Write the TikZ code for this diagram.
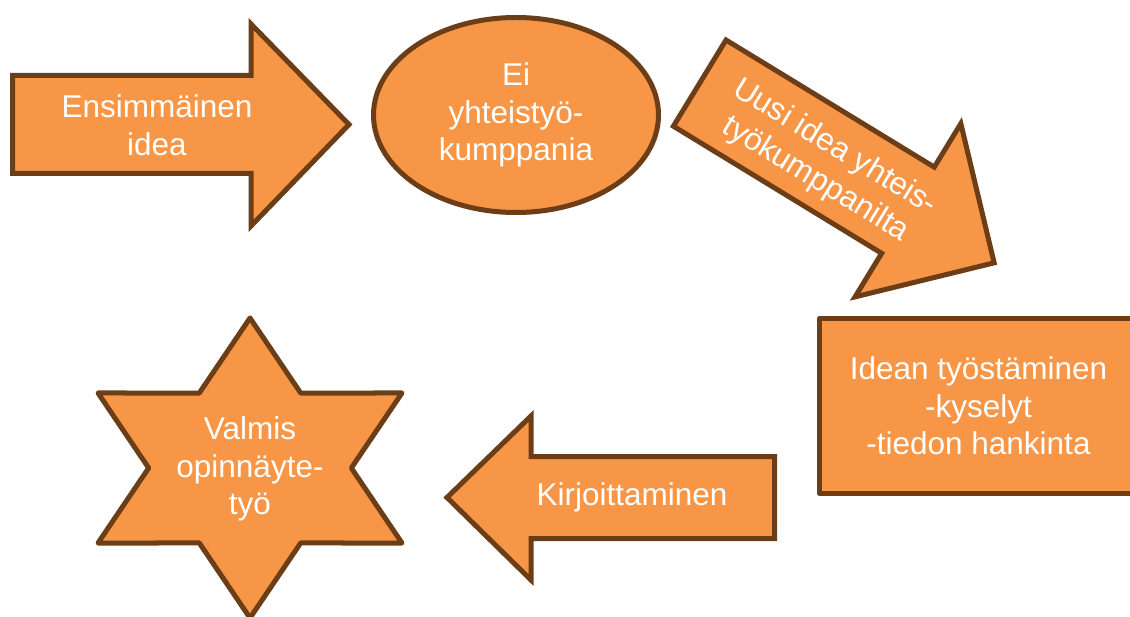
\documentclass[tikz,border=0pt]{standalone}
\usepackage{fontspec}
\setmainfont{Liberation Sans}
\usepackage{tikz}
\usetikzlibrary{shapes.geometric}
\definecolor{boxorange}{HTML}{F79646}
\definecolor{boxbrown}{HTML}{6B3E17}

\begin{document}
\begin{tikzpicture}[
    x=1pt, y=-1pt,
    piece/.style={fill=boxorange, draw=boxbrown, line width=5pt},
    words/.style={text=white, align=center, font=\fontsize{31.5}{37.5}\selectfont}
]
\useasboundingbox (0,0) rectangle (1130,617);

% First idea
\draw[piece] (12.5,75.5) -- (251,75.5) -- (251,24) -- (349,124.5) -- (251,226) -- (251,173.5) -- (12.5,173.5) -- cycle;
\node[words] (first) at (157,125) {Ensimmäinen\\idea};

% No partner
\node[piece, words, ellipse, minimum width=285, minimum height=195] (nopartner) at (516,115) {Ei\\yhteistyö-\\kumppania};

% New idea from partner
\begin{scope}[shift={(726,40)}, rotate=-31.4]
\draw[piece] (0,0) -- (244,0) -- (244,-51) -- (345,50.5) -- (244,152) -- (244,101) -- (0,101) -- cycle;
\node[words, rotate=-31.4] (newidea) at (149,54) {Uusi idea yhteis-\\työkumppanilta};
\end{scope}

% Working on the idea
\node[piece, words, line join=round, minimum width=318, minimum height=175] (work) at (978.5,406) {Idean työstäminen\\-kyselyt\\-tiedon hankinta};

% Writing
\draw[piece] (774.5,456.5) -- (531,456.5) -- (531,416) -- (447,497.5) -- (531,580) -- (531,538.5) -- (774.5,538.5) -- cycle;
\node[words] (writing) at (632,497) {Kirjoittaminen};

% Finished thesis
\begin{scope}[shift={(250,468)}, xscale=1.17]
\draw[piece, line join=round] (90:150) -- (60:86.6) -- (30:150) -- (0:86.6) -- (-30:150) -- (-60:86.6) -- (-90:150) -- (-120:86.6) -- (-150:150) -- (180:86.6) -- (150:150) -- (120:86.6) -- cycle;
\end{scope}
\node[words] (done) at (250,469) {Valmis\\opinnäyte-\\työ};

\end{tikzpicture}
\end{document}
